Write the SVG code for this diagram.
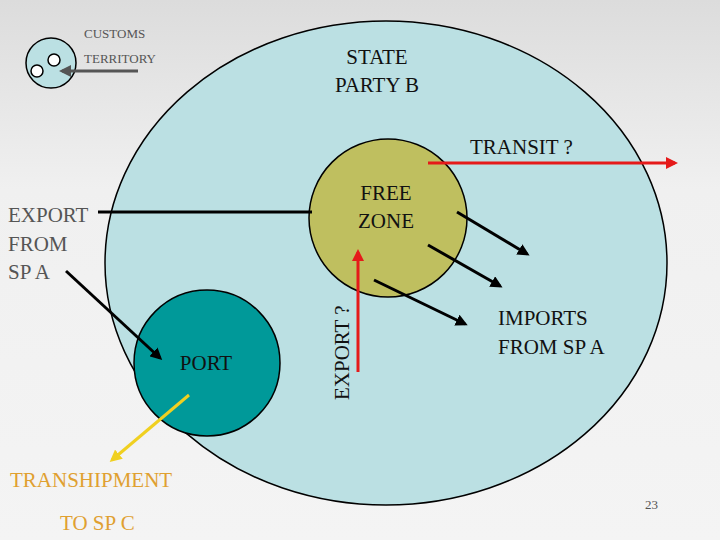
<svg xmlns="http://www.w3.org/2000/svg" width="720" height="540" viewBox="0 0 720 540">
<defs>
<linearGradient id="bg" x1="0" y1="0" x2="0" y2="1"><stop offset="0" stop-color="#dcdcdc"/><stop offset="0.35" stop-color="#f0f0f0"/><stop offset="1" stop-color="#f4f4f4"/></linearGradient>
<marker id="ab" markerWidth="4" markerHeight="4" refX="3" refY="2" orient="auto" markerUnits="strokeWidth"><path d="M0,0 L4,2 L0,4 Z" fill="#000"/></marker>
<marker id="ar" markerWidth="4" markerHeight="4" refX="3" refY="2" orient="auto" markerUnits="strokeWidth"><path d="M0,0 L4,2 L0,4 Z" fill="#e51a1a"/></marker>
<marker id="ay" markerWidth="4" markerHeight="4" refX="3" refY="2" orient="auto" markerUnits="strokeWidth"><path d="M0,0 L4,2 L0,4 Z" fill="#f0d020"/></marker>
<marker id="ag" markerWidth="4" markerHeight="4" refX="3" refY="2" orient="auto" markerUnits="strokeWidth"><path d="M0,0 L4,2 L0,4 Z" fill="#555"/></marker>
</defs>
<style>
.t{font-size:21px;fill:#111}
.g{fill:#555}
.o{fill:#e0a030}
.s{font-size:13px}
</style>
<rect width="720" height="540" fill="url(#bg)"/>
<g font-family="Liberation Serif, Times New Roman, DejaVu Serif, serif">
<g id="state-b"><ellipse cx="386" cy="263" rx="281" ry="242" fill="#bbe0e3" stroke="#000" stroke-width="1.5"/>
<text class="t" x="377" y="64" text-anchor="middle">STATE</text><text class="t" x="377" y="92" text-anchor="middle">PARTY B</text></g>
<g id="free-zone"><circle cx="388" cy="218" r="79" fill="#bfbf5f" stroke="#000" stroke-width="1.5"/>
<text class="t" x="386" y="200" text-anchor="middle">FREE</text><text class="t" x="386" y="228" text-anchor="middle">ZONE</text></g>
<g id="port"><circle cx="207" cy="363" r="73" fill="#009999" stroke="#000" stroke-width="1.5"/>
<text class="t" x="206" y="370" text-anchor="middle">PORT</text></g>
<g id="legend"><circle cx="51" cy="63" r="25" fill="#bbe0e3" stroke="#000" stroke-width="1.5"/>
<circle cx="54" cy="60" r="6" fill="#fff" stroke="#000" stroke-width="1.5"/><circle cx="37" cy="71" r="6" fill="#fff" stroke="#000" stroke-width="1.5"/>
<text x="84" y="38" class="t g s">CUSTOMS</text><text x="84" y="63" class="t g s">TERRITORY</text></g>
<g id="labels">
<text x="8" y="222" class="t g">EXPORT</text><text x="8" y="251" class="t g">FROM</text><text x="8" y="279" class="t g">SP A</text>
<text class="t" x="470" y="154">TRANSIT ?</text>
<text class="t" x="498" y="325">IMPORTS</text><text class="t" x="498" y="354">FROM SP A</text>
<text class="t" transform="translate(349,400) rotate(-90)">EXPORT ?</text>
<text x="10" y="487" class="t o">TRANSHIPMENT</text><text x="60" y="530" class="t o">TO SP C</text>
<text x="645" y="509" class="t g s">23</text>
</g>
</g>
<g id="connectors" fill="none">
<line x1="138" y1="71" x2="62" y2="71" stroke="#555" stroke-width="3" marker-end="url(#ag)"/>
<line x1="98" y1="212" x2="312" y2="212" stroke="#000" stroke-width="3"/>
<line x1="66" y1="271" x2="160" y2="358" stroke="#000" stroke-width="3" marker-end="url(#ab)"/>
<line x1="189" y1="395" x2="112" y2="460" stroke="#f0d020" stroke-width="3" marker-end="url(#ay)"/>
<line x1="358" y1="372" x2="358" y2="252" stroke="#e51a1a" stroke-width="3" marker-end="url(#ar)"/>
<line x1="428" y1="163" x2="675" y2="163" stroke="#e51a1a" stroke-width="3" marker-end="url(#ar)"/>
<line x1="457" y1="212" x2="527" y2="254" stroke="#000" stroke-width="3" marker-end="url(#ab)"/>
<line x1="428" y1="245" x2="500" y2="286" stroke="#000" stroke-width="3" marker-end="url(#ab)"/>
<line x1="374" y1="280" x2="465" y2="324" stroke="#000" stroke-width="3" marker-end="url(#ab)"/>
</g>
</svg>
